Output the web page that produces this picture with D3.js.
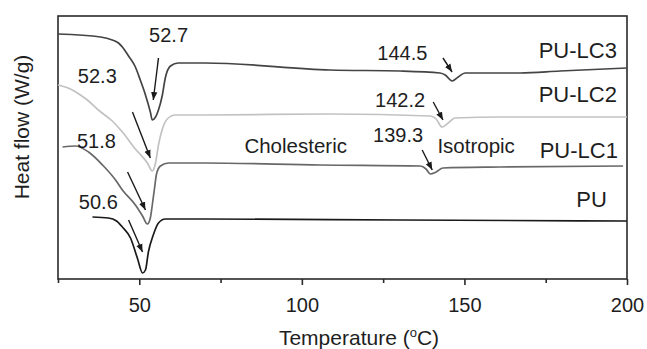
<!DOCTYPE html>
<html>
<head>
<meta charset="utf-8">
<script src="https://cdn.jsdelivr.net/npm/d3@7/dist/d3.min.js"></script>
<style>
  html, body { margin: 0; padding: 0; background: #fff; }
  svg { display: block; }
  text { font-family: "Liberation Sans", Arial, sans-serif; fill: #1e1e1e; }
</style>
</head>
<body>
<svg id="chart" width="647" height="349"></svg>
<script>
// ---- data (temperature in °C, heat flow in arbitrary offset units) ----
const majorTicks = [50, 100, 150, 200];
const minorTicks = [25, 75, 125, 175];

const seriesNames = ["PU-LC3", "PU-LC2", "PU-LC1", "PU"];

const lc3 = [
  [25, 24.5], [38.1, 24.2], [41.7, 23.9], [43.6, 23.6], [44.8, 23.2], [46.7, 22.3],
  [48.8, 21.2], [50.3, 19.9], [51.9, 18.4], [53.4, 16.7], [54.0, 15.9], [55.0, 16.2],
  [55.9, 16.9], [57.1, 18.4], [58.0, 20.1], [59.6, 21.3], [62.0, 21.6], [70.3, 21.6],
  [108.7, 20.9], [130.2, 20.8], [142.5, 20.6], [144.1, 20.4], [146.2, 19.8], [148.1, 20.2],
  [150.2, 20.6], [167.1, 20.6], [179.4, 20.8], [200, 21.1]
];
const lc2 = [
  [25, 19.4], [28.8, 19.0], [31.9, 18.4], [34.4, 17.8], [37.4, 16.9], [41.7, 15.8],
  [44.8, 14.7], [48.8, 13.0], [52.5, 11.6], [54.0, 10.8], [55.0, 11.6], [55.9, 13.4],
  [57.1, 15.0], [58.6, 16.0], [61.1, 16.4], [70.3, 16.4], [108.7, 16.5], [139.5, 16.3],
  [141.3, 16.0], [143.1, 15.2], [145.0, 15.6], [147.1, 16.1], [161.0, 16.2], [200, 16.2]
];
const lc1 = [
  [26.4, 13.2], [30.4, 13.3], [34.4, 12.7], [38.7, 11.4], [42.7, 9.9], [44.8, 8.9],
  [48.8, 7.4], [51.0, 6.3], [52.5, 5.5], [53.4, 6.1], [54.0, 7.4], [54.7, 9.1],
  [55.3, 10.5], [56.5, 11.3], [59.0, 11.6], [70.3, 11.6], [105.7, 11.4], [136.4, 11.3],
  [138.2, 11.0], [139.5, 10.5], [141.3, 10.7], [143.4, 11.1], [161.0, 11.2], [198.8, 11.3]
];
const pu = [
  [35.6, 6.2], [40.5, 6.1], [43.0, 5.8], [44.8, 5.2], [47.3, 4.1], [49.4, 2.1],
  [51.0, 0.6], [51.9, 0.9], [52.8, 2.7], [54.3, 4.4], [55.9, 5.6], [58.0, 6.0],
  [70.3, 6.0], [130.2, 5.9], [200, 5.8]
];

// peak annotations: label, label position, arrow from -> to
const peakLabels = ["52.7", "52.3", "51.8", "50.6", "144.5", "142.2", "139.3"];
const peakLabelPos = [[59.0, 23.7], [37.1, 19.6], [36.8, 13.1], [37.4, 7.0], [130.9, 21.9], [130.2, 17.2], [129.6, 13.7]];
const arrowFrom = [[55.9, 22.1], [47.9, 16.7], [46.4, 10.7], [46.7, 5.9], [143.4, 22.1], [140.4, 17.7], [137.0, 12.9]];
const arrowTo   = [[54.3, 17.9], [53.4, 12.1], [51.9, 6.9], [51.0, 2.7], [146.2, 20.7], [143.4, 15.9], [140.1, 10.9]];

const phaseLabels = ["Cholesteric", "Isotropic"];
const phaseLabelPos = [[98.1, 12.6], [153.6, 12.6]];

const seriesLabelPos = [[196.9, 22.1], [196.9, 17.7], [197.2, 12.1], [193.8, 7.2]];

// ---- layout ----
const svg = d3.select("#chart");
const L = 58, R = 627, T = 16, B = 279;
const x = d3.scaleLinear().domain([25, 200]).range([L, R]);
const y = d3.scaleLinear().domain([0, 26.3]).range([B, T]);

const colors = ["#444444", "#c2c2c2", "#686868", "#1a1a1a"];
const datasets = [lc3, lc2, lc1, pu];

// frame
svg.append("rect")
  .attr("x", L).attr("y", T).attr("width", R - L).attr("height", B - T)
  .attr("fill", "none").attr("stroke", "#2a2a2a").attr("stroke-width", 1.6);

// axes
const gx = svg.append("g").attr("transform", `translate(0,${B})`);
gx.call(d3.axisBottom(x).tickValues(majorTicks).tickSize(6).tickSizeOuter(0).tickPadding(13).tickFormat(d3.format("d")));
const gm = svg.append("g").attr("transform", `translate(0,${B})`);
gm.call(d3.axisBottom(x).tickValues(minorTicks).tickSize(4).tickSizeOuter(0).tickFormat(""));
[gx, gm].forEach(g => {
  g.select(".domain").remove();
  g.selectAll(".tick line").attr("stroke", "#2a2a2a").attr("stroke-width", 1.6);
});
gx.selectAll(".tick text").attr("font-size", 20).attr("fill", "#1e1e1e")
  .style("font-family", '"Liberation Sans", Arial, sans-serif');

// axis titles
const xt = svg.append("text").attr("x", 359).attr("y", 345).attr("text-anchor", "middle").attr("font-size", 21);
xt.append("tspan").text("Temperature (");
xt.append("tspan").attr("font-size", 13).attr("dy", -8).text("o");
xt.append("tspan").attr("dy", 8).text("C)");

svg.append("text").attr("transform", `translate(29,127) rotate(-90)`)
  .attr("text-anchor", "middle").attr("font-size", 21).text("Heat flow (W/g)");

// curves
const line = d3.line().x(d => x(d[0])).y(d => y(d[1])).curve(d3.curveMonotoneX);
datasets.forEach((ds, i) => {
  svg.append("path").datum(ds)
    .attr("d", line)
    .attr("fill", "none")
    .attr("stroke", colors[i])
    .attr("stroke-width", 1.7)
    .attr("stroke-linejoin", "round");
});

// arrows
svg.append("defs").append("marker")
  .attr("id", "ah").attr("viewBox", "0 0 10 10").attr("refX", 10).attr("refY", 5)
  .attr("markerWidth", 8).attr("markerHeight", 8).attr("markerUnits", "userSpaceOnUse")
  .attr("orient", "auto")
  .append("path").attr("d", "M0,1 L10,5 L0,9 Z").attr("fill", "#1a1a1a");

arrowFrom.forEach((f, i) => {
  svg.append("line")
    .attr("x1", x(f[0])).attr("y1", y(f[1]))
    .attr("x2", x(arrowTo[i][0])).attr("y2", y(arrowTo[i][1]))
    .attr("stroke", "#1a1a1a").attr("stroke-width", 1.4)
    .attr("marker-end", "url(#ah)");
});

// peak labels
peakLabels.forEach((t, i) => {
  svg.append("text").attr("x", x(peakLabelPos[i][0])).attr("y", y(peakLabelPos[i][1]))
    .attr("text-anchor", "middle").attr("font-size", 20).text(t);
});

// phase labels
phaseLabels.forEach((t, i) => {
  svg.append("text").attr("x", x(phaseLabelPos[i][0])).attr("y", y(phaseLabelPos[i][1]))
    .attr("text-anchor", "middle").attr("font-size", 20.5).text(t);
});

// series labels
seriesNames.forEach((t, i) => {
  svg.append("text").attr("x", x(seriesLabelPos[i][0])).attr("y", y(seriesLabelPos[i][1]))
    .attr("text-anchor", "end").attr("font-size", 22).text(t);
});
</script>
</body>
</html>
